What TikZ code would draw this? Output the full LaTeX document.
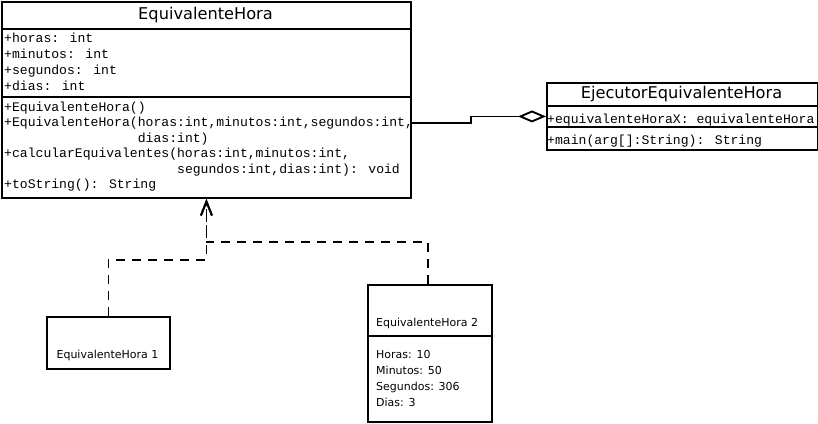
\documentclass[tikz,border=0pt]{standalone}
\usepackage{fontspec}
\setmainfont{DejaVu Sans}
\newfontfamily\monof{Liberation Mono}
\usetikzlibrary{arrows.meta}
\tikzset{
  box/.style={draw, line width=1.9pt, inner sep=0pt, anchor=north west},
  divline/.style={line width=1.9pt},
  ttl/.style={inner sep=0pt, font=\fontsize{16.2}{19}\selectfont},
  mono/.style={inner sep=0pt, anchor=base west, font=\monof\fontsize{13.1}{16}\selectfont},
  small/.style={inner sep=0pt, anchor=base west, font=\fontsize{11}{13}\selectfont},
  dep/.style={line width=1.9pt, dash pattern=on 9pt off 7pt, -{Straight Barb[length=14pt,width=11pt]}},
  agg/.style={line width=1.9pt, {Diamond[open,length=28pt,width=12pt]}-}
}
\begin{document}
\begin{tikzpicture}[x=1pt,y=-1pt]
\fill[white] (0,0) rectangle (818,423);
\useasboundingbox (0,0) rectangle (818,423);
% main class
\node[box, minimum width=409pt, minimum height=196pt] (main) at (1,1) {};
\node[ttl] (mainT) at (205.5,15.5) {EquivalenteHora};
\draw[divline] (1,29) -- (410,29);
\draw[divline] (1,97) -- (410,97);
\node[mono] (a1) at (4,42) {+horas: int};
\node[mono] (a2) at (4,58) {+minutos: int};
\node[mono] (a3) at (4,74) {+segundos: int};
\node[mono] (a4) at (4,90) {+dias: int};
\node[mono] (m1) at (4,111) {+EquivalenteHora()};
\node[mono] (m2) at (4,126.5) {+EquivalenteHora(horas:int,minutos:int,segundos:int,};
\node[mono] (m3) at (4,142) {\phantom{+EquivalenteHora(}dias:int)};
\node[mono] (m4) at (4,157.5) {+calcularEquivalentes(horas:int,minutos:int,};
\node[mono] (m5) at (4,173) {\phantom{+calcularEquivalentes(}segundos:int,dias:int): void};
\node[mono] (m6) at (4,188.5) {+toString(): String};
% ejecutor class
\node[box, minimum width=271pt, minimum height=67pt] (ej) at (546,82) {};
\node[ttl] (ejT) at (681.5,94.5) {EjecutorEquivalenteHora};
\draw[divline] (546,106) -- (817,106);
\draw[divline] (546,127) -- (817,127);
\node[mono] (ea1) at (547,123) {+equivalenteHoraX: equivalenteHora};
\node[mono] (em1) at (547,144) {+main(arg[]:String): String};
% instance 1
\node[box, minimum width=123pt, minimum height=52pt] (b1) at (46,316) {};
\node[inner sep=0pt, anchor=base, font=\fontsize{11}{13}\selectfont] (b1T) at (107.5,358) {EquivalenteHora 1};
% instance 2
\node[box, minimum width=124pt, minimum height=137pt] (b2) at (367,284) {};
\draw[divline] (367,336) -- (491,336);
\node[small] (b2T) at (376,326) {EquivalenteHora 2};
\node[small] (h1) at (376,358) {Horas: 10};
\node[small] (h2) at (376,374) {Minutos: 50};
\node[small] (h3) at (376,390) {Segundos: 306};
\node[small] (h4) at (376,406) {Dias: 3};
% connectors
\draw[dep] (b1.north) -- ++(0,-56) -| (main.south);
\draw[dep] ([xshift=-2pt]b2.north) -- ++(0,-42) -| (main.south);
\draw[agg] (ej.west) -- ++(-75,0) |- ([yshift=-23pt]main.east);
\end{tikzpicture}
\end{document}
